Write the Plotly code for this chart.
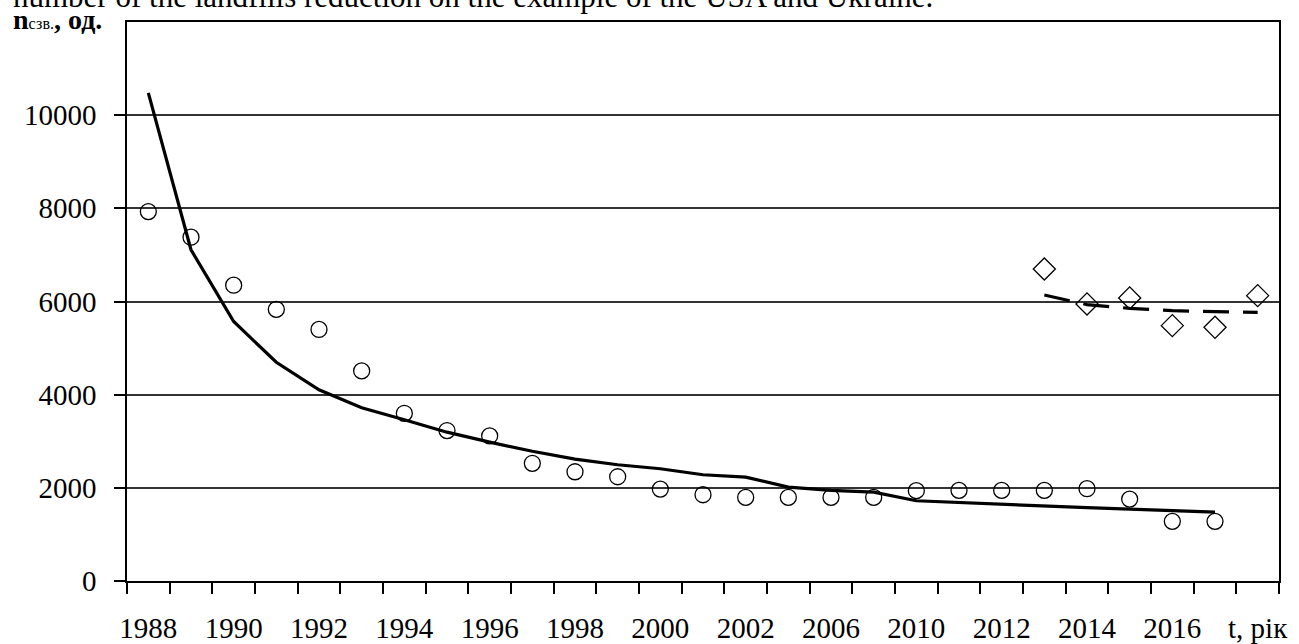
import plotly.graph_objects as go

years = ["1988", "1989", "1990", "1991", "1992", "1993", "1994", "1995", "1996",
         "1997", "1998", "1999", "2000", "2001", "2002", "2004", "2006", "2008",
         "2010", "2011", "2012", "2013", "2014", "2015", "2016", "2017", "2018"]

ukraine_obs = [7930, 7380, 6350, 5830, 5400, 4510, 3600, 3230, 3115, 2527, 2345,
               2238, 1973, 1852, 1795, 1795, 1795, 1795, 1940, 1945, 1945, 1945,
               1981, 1758, 1280, 1280]
ukraine_trend = [10480, 7110, 5570, 4696, 4104, 3718, 3461, 3195, 2980, 2785, 2616,
                 2495, 2410, 2281, 2230, 2015, 1945, 1908, 1722, 1681, 1645, 1608,
                 1574, 1544, 1516, 1480]

usa_years = ["2013", "2014", "2015", "2016", "2017", "2018"]
usa_obs = [6698, 5948, 6076, 5482, 5446, 6126]
usa_trend = [6140, 5933, 5853, 5804, 5782, 5767]

y_ticks = [0, 2000, 4000, 6000, 8000, 10000]
y_labels = ["0", "2000", "4000", "6000", "8000", "10000"]
x_labels = ["1988", "", "1990", "", "1992", "", "1994", "", "1996", "", "1998", "",
            "2000", "", "2002", "", "2006", "", "2010", "", "2012", "", "2014", "",
            "2016", "", "t, рік"]

fig = go.Figure()
fig.add_trace(go.Scatter(x=years[:len(ukraine_trend)], y=ukraine_trend, mode="lines",
                         line=dict(color="black", width=3.2), showlegend=False))
fig.add_trace(go.Scatter(x=usa_years, y=usa_trend, mode="lines",
                         line=dict(color="black", width=3.2, dash="26px,14px"),
                         showlegend=False))
fig.add_trace(go.Scatter(x=years[:len(ukraine_obs)], y=ukraine_obs, mode="markers",
                         marker=dict(symbol="circle-open", size=16, color="black",
                                     line=dict(width=1.3, color="black")),
                         showlegend=False))
fig.add_trace(go.Scatter(x=usa_years, y=usa_obs, mode="markers",
                         marker=dict(symbol="diamond-open", size=17, color="black",
                                     line=dict(width=1.3, color="black")),
                         showlegend=False))

font_family = "Liberation Serif"
fig.update_layout(
    width=1299, height=644,
    margin=dict(l=127, r=20, t=22, b=63, autoexpand=False),
    paper_bgcolor="white", plot_bgcolor="white",
    font=dict(family=font_family, color="black"),
    xaxis=dict(type="category", categoryorder="array", categoryarray=years,
               range=[-0.5, len(years) - 0.5], automargin=False,
               tickmode="array", tickvals=years, ticktext=x_labels, tickangle=0,
               tickson="boundaries", ticks="outside", ticklen=11, tickwidth=1.5,
               tickcolor="black", showgrid=False, showline=True, linecolor="black",
               linewidth=1.5, mirror=True, ticklabelstandoff=20,
               tickfont=dict(family=font_family, size=29, color="black")),
    yaxis=dict(range=[0, 12000], tickmode="array", tickvals=y_ticks, ticktext=y_labels,
               automargin=False,
               ticks="outside", ticklen=11, tickwidth=1.5, tickcolor="black",
               showgrid=True, gridcolor="#333333", gridwidth=1.5,
               showline=True, linecolor="black", linewidth=1.5, mirror=True,
               zeroline=False, ticklabelstandoff=12,
               tickfont=dict(family=font_family, size=29, color="black")),
    annotations=[
        dict(text="number of the landfills reduction on the example of the USA and Ukraine.",
             xref="paper", yref="paper", x=-0.1005, y=1.0115, xanchor="left", yanchor="bottom",
             showarrow=False, font=dict(family=font_family, size=31, color="black")),
        dict(text="<b>n</b><span style='font-size:16px'>сзв.</span><b>, од.</b>",
             xref="paper", yref="paper", x=-0.1005, y=1.004, xanchor="left", yanchor="middle",
             showarrow=False, font=dict(family=font_family, size=28, color="black")),
    ],
)

fig.write_html("out.html", config={"displayModeBar": False},
               post_script="document.body.style.margin='0px';")
